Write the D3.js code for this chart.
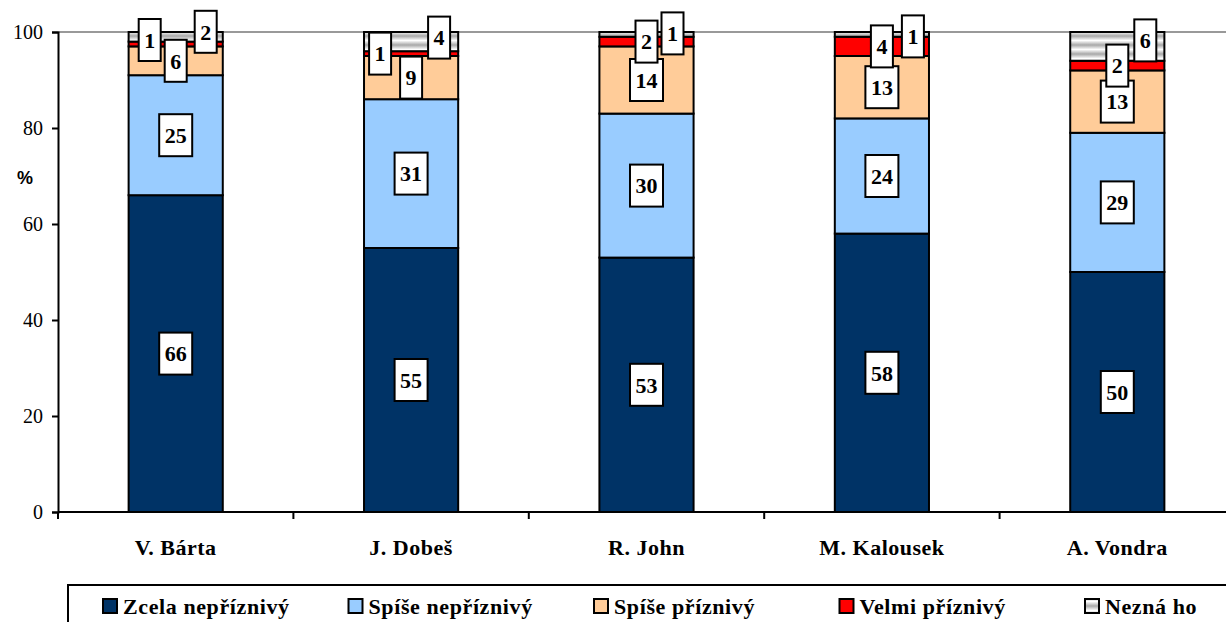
<!DOCTYPE html>
<html lang="cs">
<head>
    <meta charset="UTF-8">
    <title>Hodnocení politiků</title>
    <script src="https://cdnjs.cloudflare.com/ajax/libs/d3/7.8.5/d3.min.js"></script>
    <style>
        body {
            margin: 0;
            background: #fff;
        }
    </style>
</head>
<body>
<svg width="1226" height="622"></svg>

<script>
    // Data
    const categories = ["V. Bárta", "J. Dobeš", "R. John", "M. Kalousek", "A. Vondra"];
    const seriesNames = ["Zcela nepříznivý", "Spíše nepříznivý", "Spíše příznivý", "Velmi příznivý", "Nezná ho"];
    const zcelaNepriznivy = [66, 55, 53, 58, 50];
    const spiseNepriznivy = [25, 31, 30, 24, 29];
    const spisePriznivy = [6, 9, 14, 13, 13];
    const velmiPriznivy = [1, 1, 2, 4, 2];
    const neznaHo = [2, 4, 1, 1, 6];
    const yTicks = [0, 20, 40, 60, 80, 100];

    const seriesValues = [zcelaNepriznivy, spiseNepriznivy, spisePriznivy, velmiPriznivy, neznaHo];
    const colors = ["#003366", "#99ccff", "#ffcc99", "#ff0000", "url(#grayStripes)"];

    const SERIF = "'Liberation Serif', 'DejaVu Serif', serif";

    // small labels were dragged aside in the original so they don't overlap
    const labelNudge = {
        "V. Bárta|3": [-26, -4], "V. Bárta|4": [30, -5],
        "J. Dobeš|3": [-31, 0], "J. Dobeš|4": [28, -4],
        "R. John|4": [26, -1],
        "M. Kalousek|4": [31, 2],
        "A. Vondra|4": [28, -6]
    };

    const svg = d3.select("svg").attr("font-family", SERIF);
    const margin = {left: 58, top: 32, bottom: 110};
    const height = 622;

    // gray striped fill for "Nezná ho"
    const defs = svg.append("defs");
    const grad = defs.append("linearGradient")
        .attr("id", "grayGrad").attr("x1", 0).attr("y1", 0).attr("x2", 0).attr("y2", 1);
    grad.append("stop").attr("offset", "0%").attr("stop-color", "#a8a8a8");
    grad.append("stop").attr("offset", "50%").attr("stop-color", "#ffffff");
    grad.append("stop").attr("offset", "100%").attr("stop-color", "#a8a8a8");
    const pat = defs.append("pattern")
        .attr("id", "grayStripes").attr("patternUnits", "userSpaceOnUse")
        .attr("width", 10).attr("height", 9);
    pat.append("rect").attr("width", 10).attr("height", 9).attr("fill", "url(#grayGrad)");

    const x = d3.scaleBand()
        .domain(categories)
        .range([margin.left, 1235])
        .paddingInner(0.6)
        .paddingOuter(0.3);

    const y = d3.scaleLinear()
        .domain([0, 100])
        .range([height - margin.bottom, margin.top]);

    // table for stacking
    const table = categories.map((c, i) => {
        const row = {category: c};
        seriesNames.forEach((s, j) => row[s] = seriesValues[j][i]);
        return row;
    });
    const stacked = d3.stack().keys(seriesNames)(table);

    // gridline at 100
    svg.append("line")
        .attr("x1", margin.left).attr("x2", 1226)
        .attr("y1", y(100)).attr("y2", y(100))
        .attr("stroke", "#999").attr("stroke-width", 2);

    // bars
    stacked.forEach((layer, j) => {
        svg.append("g").selectAll("rect")
            .data(layer)
            .join("rect")
            .attr("x", d => x(d.data.category))
            .attr("width", x.bandwidth())
            .attr("y", d => y(d[1]))
            .attr("height", d => y(d[0]) - y(d[1]))
            .attr("fill", colors[j])
            .attr("stroke", "#000")
            .attr("stroke-width", 2);
    });

    // axes
    const yAxis = svg.append("g")
        .attr("transform", `translate(${margin.left},0)`)
        .call(d3.axisLeft(y).tickValues(yTicks).tickSize(6).tickPadding(9));
    yAxis.attr("font-family", SERIF);
    yAxis.select(".domain").attr("stroke", "#000").attr("stroke-width", 2);
    yAxis.selectAll(".tick line").attr("stroke", "#000").attr("stroke-width", 2);
    yAxis.selectAll(".tick text")
        .attr("font-family", SERIF)
        .attr("font-size", 20).attr("fill", "#000");

    const xAxis = svg.append("g")
        .attr("transform", `translate(0,${y(0)})`);
    xAxis.append("line")
        .attr("x1", margin.left).attr("x2", 1226)
        .attr("stroke", "#000").attr("stroke-width", 2);
    const step = x.step();
    const boundaries = categories.map(c => x(c) - x.paddingInner() * step / 2);
    xAxis.selectAll(".btick")
        .data(boundaries)
        .join("line")
        .attr("x1", d => d).attr("x2", d => d)
        .attr("y1", 0).attr("y2", 7)
        .attr("stroke", "#000").attr("stroke-width", 2);
    xAxis.selectAll(".clabel")
        .data(categories)
        .join("text")
        .attr("x", d => x(d) + x.bandwidth() / 2)
        .attr("y", 43)
        .attr("text-anchor", "middle")
        .attr("font-family", SERIF)
        .attr("font-size", 22).attr("font-weight", "bold")
        .attr("letter-spacing", 0.5)
        .text(d => d);

    svg.append("text")
        .attr("x", 25).attr("y", 184)
        .attr("text-anchor", "middle")
        .attr("font-family", "'Liberation Sans', Arial, sans-serif")
        .attr("font-size", 18).attr("font-weight", "bold")
        .text("%");

    // value labels
    const labels = svg.append("g");
    stacked.forEach((layer, j) => {
        layer.forEach(d => {
            const key = d.data.category + "|" + j;
            const nudge = labelNudge[key] || [0, 0];
            const cx = x(d.data.category) + x.bandwidth() / 2 + nudge[0];
            const cy = y((d[0] + d[1]) / 2) + nudge[1];
            const txt = String(d[1] - d[0]);
            const w = txt.length > 1 ? 33 : 22;
            const g = labels.append("g").attr("transform", `translate(${cx},${cy})`);
            g.append("rect")
                .attr("x", -w / 2).attr("y", -21)
                .attr("width", w).attr("height", 42)
                .attr("fill", "#fff").attr("stroke", "#000").attr("stroke-width", 2);
            g.append("text")
                .attr("text-anchor", "middle")
                .attr("dy", "0.35em")
                .attr("font-family", SERIF)
                .attr("font-size", 22).attr("font-weight", "bold")
                .text(txt);
        });
    });

    // legend
    const legend = svg.append("g");
    legend.append("rect")
        .attr("x", 68).attr("y", 585)
        .attr("width", 1200).attr("height", 60)
        .attr("fill", "#fff").attr("stroke", "#000").attr("stroke-width", 2);
    const legendX = d3.scalePoint()
        .domain(seriesNames)
        .range([103, 1085]);
    const item = legend.selectAll(".item")
        .data(seriesNames)
        .join("g")
        .attr("transform", d => `translate(${legendX(d)},606)`);
    item.append("rect")
        .attr("x", 0).attr("y", -7)
        .attr("width", 14).attr("height", 14)
        .attr("fill", (d, i) => colors[i])
        .attr("stroke", "#000").attr("stroke-width", 2);
    item.append("text")
        .attr("x", 20).attr("dy", "0.35em")
        .attr("font-family", SERIF)
        .attr("font-size", 22).attr("font-weight", "bold")
        .attr("letter-spacing", 0.6)
        .text(d => d);
</script>
</body>
</html>
